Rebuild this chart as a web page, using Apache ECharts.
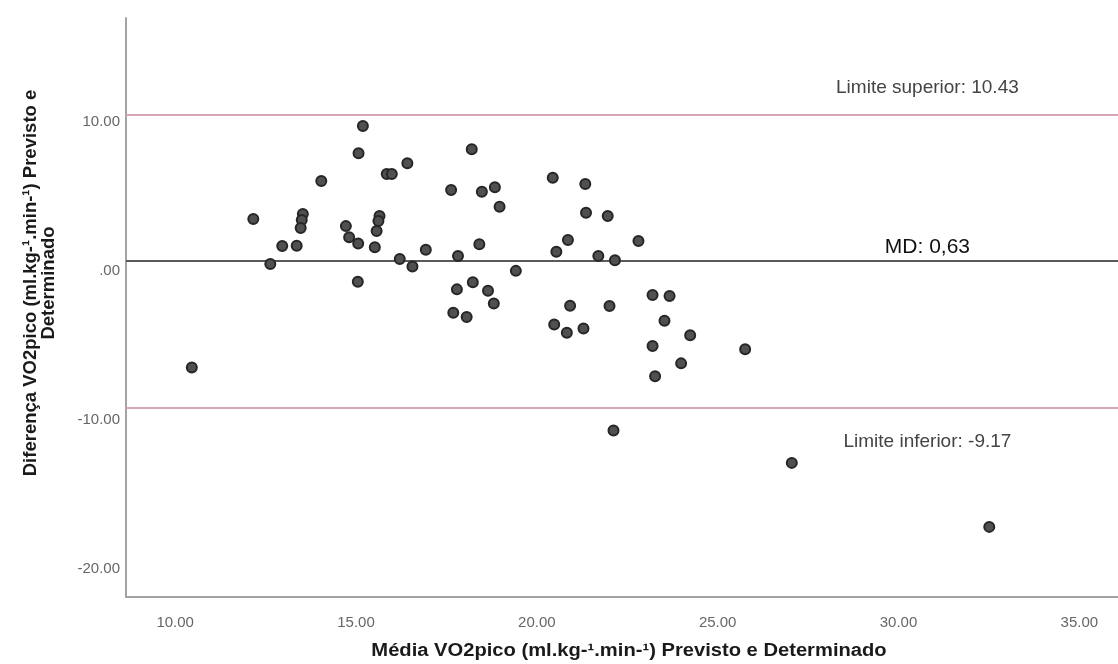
<!DOCTYPE html>
<html>
<head>
<meta charset="utf-8">
<title>Bland-Altman VO2pico</title>
<script src="https://cdn.jsdelivr.net/npm/echarts@6/dist/echarts.min.js"></script>
<style>
  html, body { margin: 0; padding: 0; background: #fff; }
  #chart { width: 1118px; height: 664px; }
</style>
</head>
<body>
<div id="chart"></div>
<script>
// Mean of predicted and measured VO2peak (x) for each subject
const meanVO2 = [
  15.19, 15.07, 18.20, 16.42, 15.85, 15.99, 14.04, 20.44, 17.63, 18.48,
  18.84, 18.97, 12.16, 13.53, 13.50, 13.47, 13.36, 14.72, 15.65, 15.62,
  15.57, 14.81, 15.06, 12.96, 15.52, 18.41, 16.93, 20.54, 17.82, 12.63,
  16.21, 16.56, 19.42, 15.05, 18.23, 17.79, 18.65, 18.81, 17.69, 18.06,
  20.48, 21.34, 21.36, 21.96, 20.86, 22.81, 21.70, 22.16, 20.92, 22.01,
  20.83, 21.29, 23.20, 23.67, 23.53, 24.24, 23.20, 23.99, 23.27, 22.12,
  10.46, 25.76, 27.05, 32.51
];
// Difference predicted - measured VO2peak (y) for each subject
const diffVO2 = [
  9.69, 7.86, 8.13, 7.19, 6.47, 6.47, 6.00, 6.22, 5.40, 5.29,
  5.58, 4.28, 3.45, 3.79, 3.39, 2.85, 1.66, 2.98, 3.66, 3.32,
  2.65, 2.23, 1.82, 1.64, 1.56, 1.76, 1.40, 1.26, 0.97, 0.44,
  0.78, 0.27, -0.02, -0.75, -0.78, -1.26, -1.35, -2.20, -2.82, -3.11,
  -3.61, 5.80, 3.88, 3.66, 2.05, 1.98, 0.97, 0.70, -2.36, -2.38,
  -4.17, -3.88, -1.64, -1.71, -3.37, -4.33, -5.06, -6.22, -7.08, -10.72,
  -6.49, -5.27, -12.89, -17.18
];

// Agreement statistics
const meanDiff = 0.63;
const upperLimit = 10.43;
const lowerLimit = -9.17;

// Tick labels
const xTicks = [10, 15, 20, 25, 30, 35];
const yTicks = [-20, -10, 0, 10];

const xTitle = 'Média VO2pico (ml.kg-¹.min-¹) Previsto e Determinado';
const yTitle = 'Diferença VO2pico (ml.kg-¹.min-¹) Previsto e\nDeterminado';

const points = meanVO2.map((x, i) => [x, diffVO2[i]]);

// SPSS-style number format: two decimals, no leading zero for |v| < 1
const fmt2 = v => v.toFixed(2).replace(/^(-?)0\./, '$1.');

const chart = echarts.init(document.getElementById('chart'), null, { renderer: 'canvas' });

const axisLineStyle = { color: '#a3a3a3', width: 2 };
const tickFont = { color: '#666', fontSize: 15, fontFamily: 'Liberation Sans, Arial, sans-serif' };

chart.setOption({
  animation: false,
  backgroundColor: '#fff',
  grid: { left: 126, right: 0, top: 18, bottom: 67, containLabel: false },
  xAxis: {
    type: 'value',
    min: 8.64,
    max: 36.07,
    splitLine: { show: false },
    axisTick: { show: false },
    axisLine: { show: true, onZero: false, lineStyle: axisLineStyle },
    axisLabel: Object.assign({
      margin: 18,
      customValues: xTicks,
      formatter: v => v.toFixed(2)
    }, tickFont)
  },
  yAxis: {
    type: 'value',
    min: -21.88,
    max: 16.93,
    splitLine: { show: false },
    axisTick: { show: false },
    axisLine: { show: true, onZero: false, lineStyle: axisLineStyle },
    axisLabel: Object.assign({
      margin: 6,
      padding: [6, 0, 0, 0],
      customValues: yTicks,
      formatter: v => fmt2(v)
    }, tickFont)
  },
  series: [
    {
      type: 'scatter',
      data: points,
      symbol: 'circle',
      symbolSize: 10,
      itemStyle: { color: '#505050', borderColor: '#262626', borderWidth: 2, opacity: 1 },
      z: 5,
      markLine: {
        silent: true,
        symbol: 'none',
        label: { show: false },
        data: [
          { yAxis: upperLimit, lineStyle: { color: '#d6a6b4', width: 2, type: 'solid' } },
          { yAxis: meanDiff, lineStyle: { color: '#5a5a5a', width: 2, type: 'solid' } },
          { yAxis: lowerLimit, lineStyle: { color: '#d6a6b4', width: 2, type: 'solid' } }
        ]
      }
    }
  ]
});

// Annotation texts anchored to the reference lines
const labelX = 30.8;
const pUp = chart.convertToPixel({ gridIndex: 0 }, [labelX, upperLimit]);
const pMd = chart.convertToPixel({ gridIndex: 0 }, [labelX, meanDiff]);
const pLo = chart.convertToPixel({ gridIndex: 0 }, [labelX, lowerLimit]);

chart.setOption({
  graphic: [
    {
      type: 'text', x: pUp[0], y: pUp[1] - 27,
      style: {
        text: 'Limite superior: ' + upperLimit.toFixed(2),
        fill: '#444', font: '19px "Liberation Sans", Arial, sans-serif',
        align: 'center', verticalAlign: 'middle'
      }
    },
    {
      type: 'text', x: pMd[0], y: pMd[1] - 14,
      style: {
        text: 'MD: ' + meanDiff.toFixed(2).replace('.', ','),
        fill: '#111', font: '21px "Liberation Sans", Arial, sans-serif',
        align: 'center', verticalAlign: 'middle'
      }
    },
    {
      type: 'text', x: pLo[0], y: pLo[1] + 34,
      style: {
        text: 'Limite inferior: ' + lowerLimit.toFixed(2),
        fill: '#444', font: '19px "Liberation Sans", Arial, sans-serif',
        align: 'center', verticalAlign: 'middle'
      }
    },
    {
      type: 'text', x: 629, y: 651, scaleX: 1.12,
      style: {
        text: xTitle, fill: '#1a1a1a',
        font: 'bold 18px "Liberation Sans", Arial, sans-serif',
        align: 'center', verticalAlign: 'middle'
      }
    },
    {
      type: 'text', x: 40, y: 283, rotation: Math.PI / 2,
      style: {
        text: yTitle, fill: '#1a1a1a',
        font: 'bold 18.5px "Liberation Sans", Arial, sans-serif',
        align: 'center', verticalAlign: 'middle', lineHeight: 18
      }
    }
  ]
});
</script>
</body>
</html>
